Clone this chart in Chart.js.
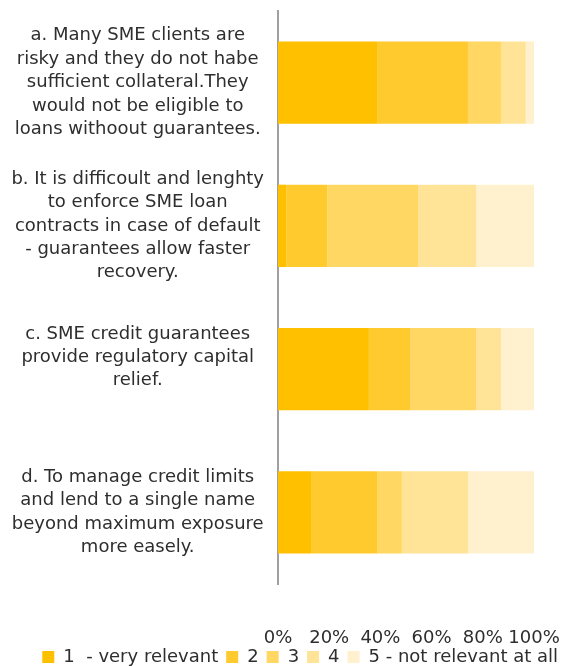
<!DOCTYPE html>
<html>
<head>
<meta charset="utf-8">
<script src="https://cdn.jsdelivr.net/npm/chart.js@4"></script>
<style>
  html, body { margin: 0; padding: 0; background: #fff; }
  #wrap { width: 566px; height: 666px; }
</style>
</head>
<body>
<div id="wrap"><canvas id="chart" width="566" height="666"></canvas></div>
<script>
// Survey answers, share of respondents (%) per relevance score
const categories = [
  ["a. Many SME clients are", "risky and they do not habe", "sufficient collateral.They", "would not be eligible to", "loans withoout guarantees."],
  ["b. It is difficoult and lenghty", "to enforce SME loan", "contracts in case of default", "- guarantees allow faster", "recovery."],
  ["c. SME credit guarantees", "provide regulatory capital", "relief.", ""],
  ["d. To manage credit limits", "and lend to a single name", "beyond maximum exposure", "more easely."],
];
const seriesLabels = ["1  - very relevant", "2", "3", "4", "5 - not relevant at all"];
const score1 = [38.7, 3.2, 35.5, 12.9];
const score2 = [35.5, 16.1, 16.1, 25.8];
const score3 = [12.9, 35.5, 25.8, 9.7];
const score4 = [9.7, 22.6, 9.7, 25.8];
const score5 = [3.2, 22.6, 12.9, 25.8];
const xTicks = [0, 20, 40, 60, 80, 100];

const colors = ["#FFC000", "#FFCA2E", "#FFD762", "#FFE497", "#FFF1CD"];
const font = { family: "DejaVu Sans", size: 18, lineHeight: 1.3 };
const textColor = "#2e2e2e";

const datasets = [score1, score2, score3, score4, score5].map((values, i) => ({
  label: seriesLabels[i],
  data: values,
  backgroundColor: colors[i],
  borderWidth: 0,
  categoryPercentage: 1,
  barPercentage: 0.575,
}));

// the % labels sit low, close to the legend; let them draw past the axis box
const unclipTicks = {
  id: "unclipTicks",
  afterLayout(chart) {
    chart.scales.x.bottom += 14;
  },
};

new Chart(document.getElementById("chart"), {
  type: "bar",
  data: { labels: categories, datasets: datasets },
  plugins: [unclipTicks],
  options: {
    indexAxis: "y",
    responsive: false,
    animation: false,
    layout: { padding: { top: 11, right: 0, bottom: -10, left: 0 } },
    scales: {
      x: {
        stacked: true,
        min: 0,
        max: 100,
        afterBuildTicks: (scale) => {
          scale.ticks = xTicks.map((v) => ({ value: v }));
        },
        afterFit: (scale) => {
          scale.height = 56;
          scale.paddingRight = 32;
        },
        grid: { display: false, drawTicks: false },
        border: { display: false },
        ticks: {
          font: { family: "DejaVu Sans", size: 18 },
          color: textColor,
          padding: 44,
          maxRotation: 0,
          autoSkip: false,
          callback: (v) => v + "%",
        },
      },
      y: {
        stacked: true,
        afterFit: (scale) => {
          scale.width = 278;
          scale.paddingTop = 0;
          scale.paddingBottom = 0;
        },
        grid: { display: false, drawTicks: false },
        border: { display: true, color: "#A0A0A0", width: 2 },
        ticks: {
          font: font,
          color: textColor,
          padding: 14,
          crossAlign: "center",
          autoSkip: false,
        },
      },
    },
    plugins: {
      legend: {
        position: "bottom",
        align: "end",
        labels: {
          font: { family: "DejaVu Sans", size: 18 },
          color: textColor,
          boxWidth: 12,
          boxHeight: 12,
          padding: 8,
        },
      },
      tooltip: { enabled: false },
    },
  },
});
</script>
</body>
</html>
